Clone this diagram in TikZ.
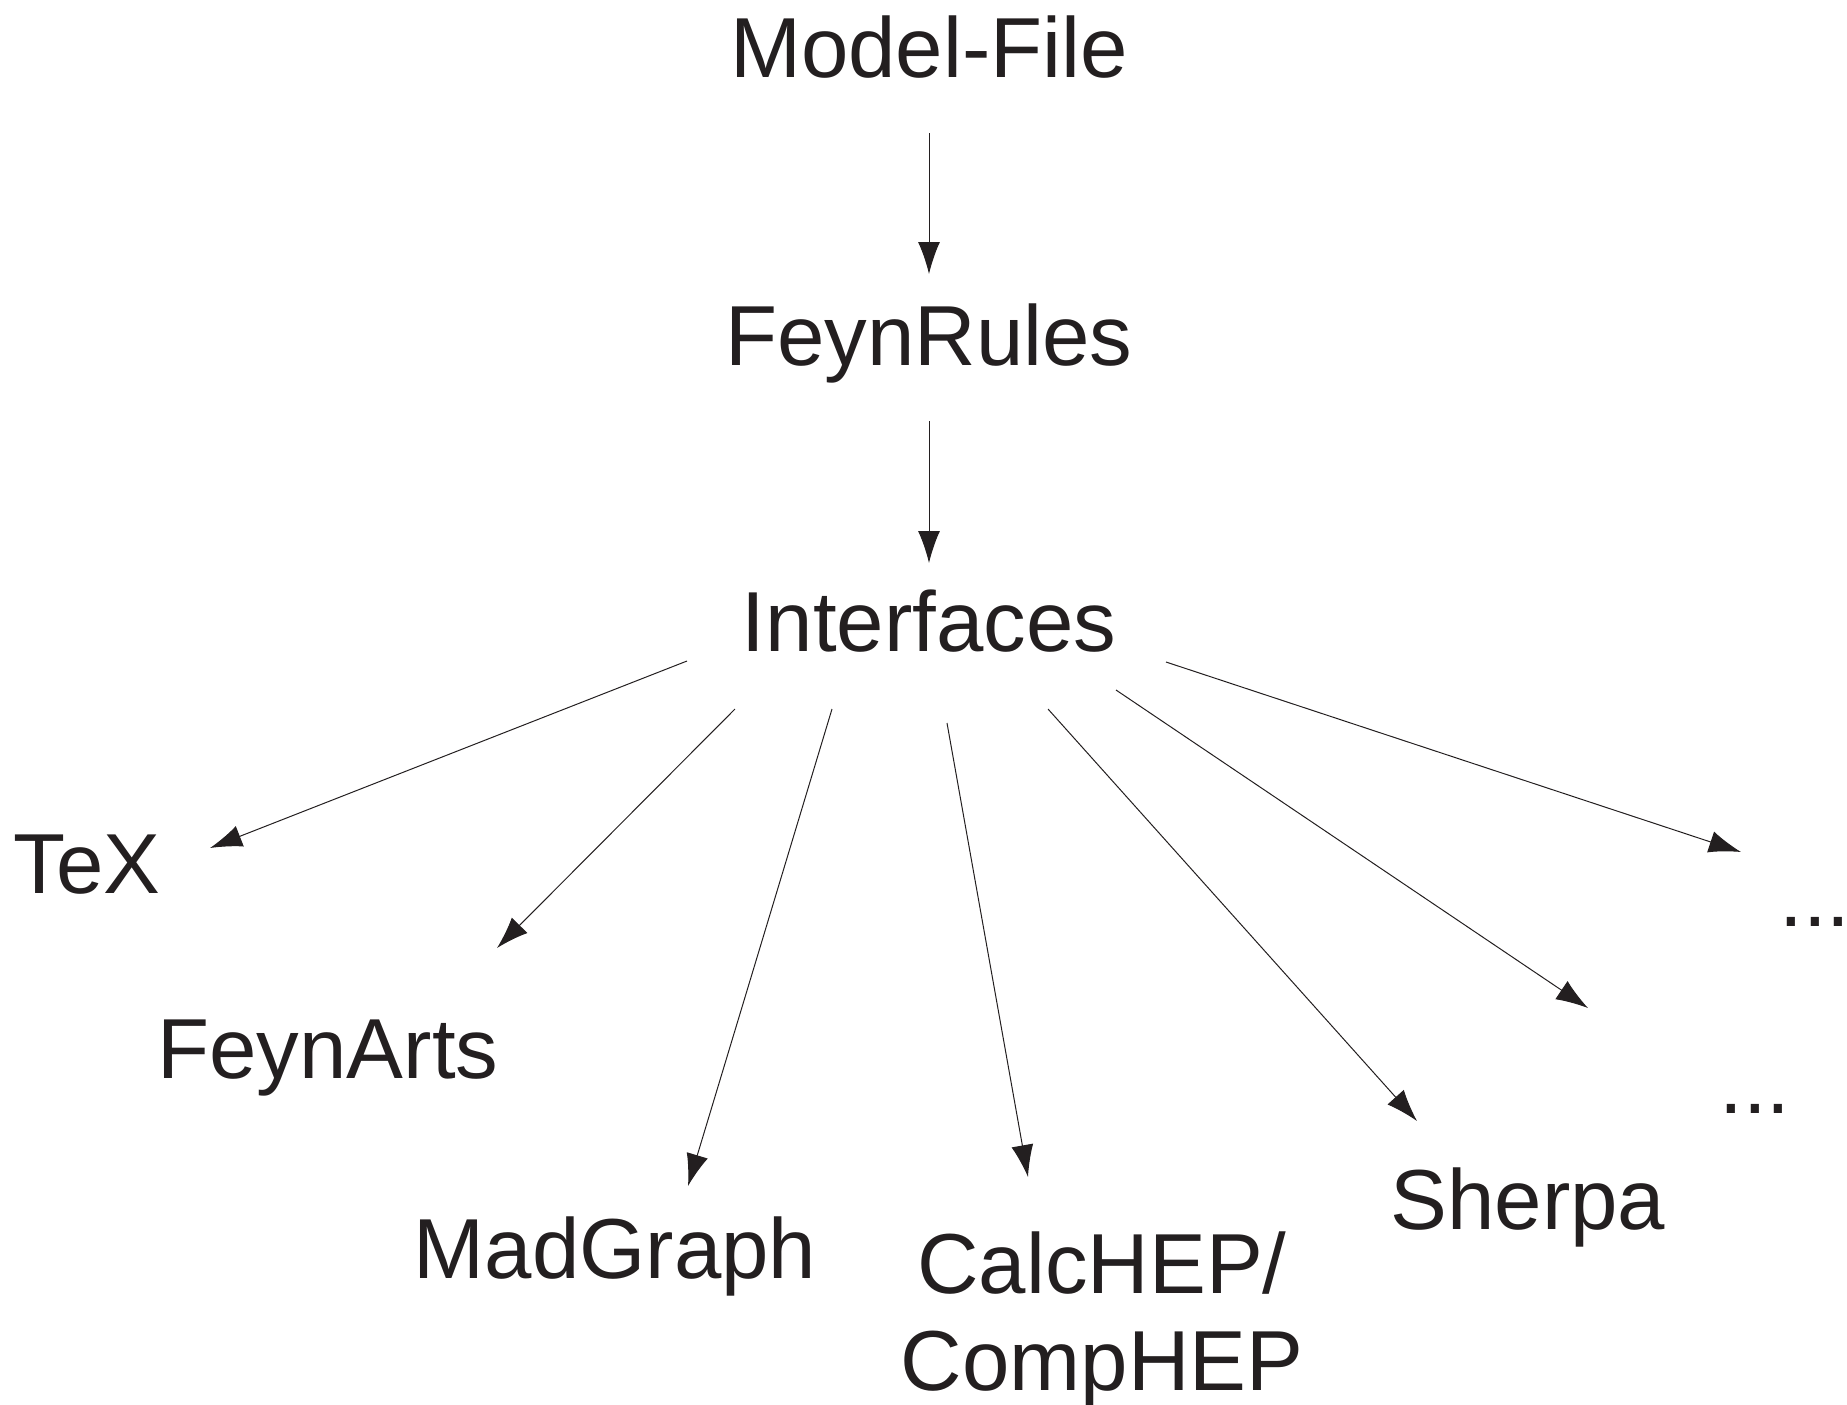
\documentclass[tikz,border=0pt]{standalone}
\usepackage{fontspec}
\setmainfont{Liberation Sans}
\usetikzlibrary{arrows.meta}
\definecolor{ink}{RGB}{35,31,32}
\begin{document}
\begin{tikzpicture}[x=0.5pt,y=-0.5pt,
  lbl/.style={font=\fontsize{42.6pt}{48.5pt}\selectfont, text=ink, inner sep=0pt, anchor=base},
  conn/.style={draw=ink, line width=0.5pt, -{Latex[length=16pt,width=11pt]}}]
\useasboundingbox (0,0) rectangle (1847,1404);
% nodes
\node[lbl] (model) at (929,77) {Model-File};
\node[lbl] (feyn) at (929,365) {FeynRules};
\node[lbl] (iface) at (929,651) {Interfaces};
\node[lbl] (tex) at (87,893) {TeX};
\node[lbl] (arts) at (328,1078) {FeynArts};
\node[lbl] (mad) at (615,1278) {MadGraph};
\node[lbl, align=center] (calc) at (1102,1390) {CalcHEP/\\CompHEP};
\node[lbl] (sherpa) at (1528,1229) {Sherpa};
\node[lbl] (dotsa) at (1815,926) {...};
\node[lbl] (dotsb) at (1755,1113) {...};
% connector end points
\coordinate (m1) at (929,133);  \coordinate (f1) at (929,274);
\coordinate (m2) at (929,421);  \coordinate (f2) at (929,563);
\coordinate (s1) at (687,661);  \coordinate (e1) at (210,848);
\coordinate (s2) at (735,709);  \coordinate (e2) at (497,948);
\coordinate (s3) at (832,709);  \coordinate (e3) at (688,1186);
\coordinate (s4) at (947,723);  \coordinate (e4) at (1028,1177);
\coordinate (s5) at (1048,709); \coordinate (e5) at (1417,1121);
\coordinate (s6) at (1116,690); \coordinate (e6) at (1588,1008);
\coordinate (s7) at (1166,662); \coordinate (e7) at (1741,852);
% connectors
\draw[conn] (m1) -- (f1);
\draw[conn] (m2) -- (f2);
\draw[conn] (s1) -- (e1);
\draw[conn] (s2) -- (e2);
\draw[conn] (s3) -- (e3);
\draw[conn] (s4) -- (e4);
\draw[conn] (s5) -- (e5);
\draw[conn] (s6) -- (e6);
\draw[conn] (s7) -- (e7);
\end{tikzpicture}
\end{document}
